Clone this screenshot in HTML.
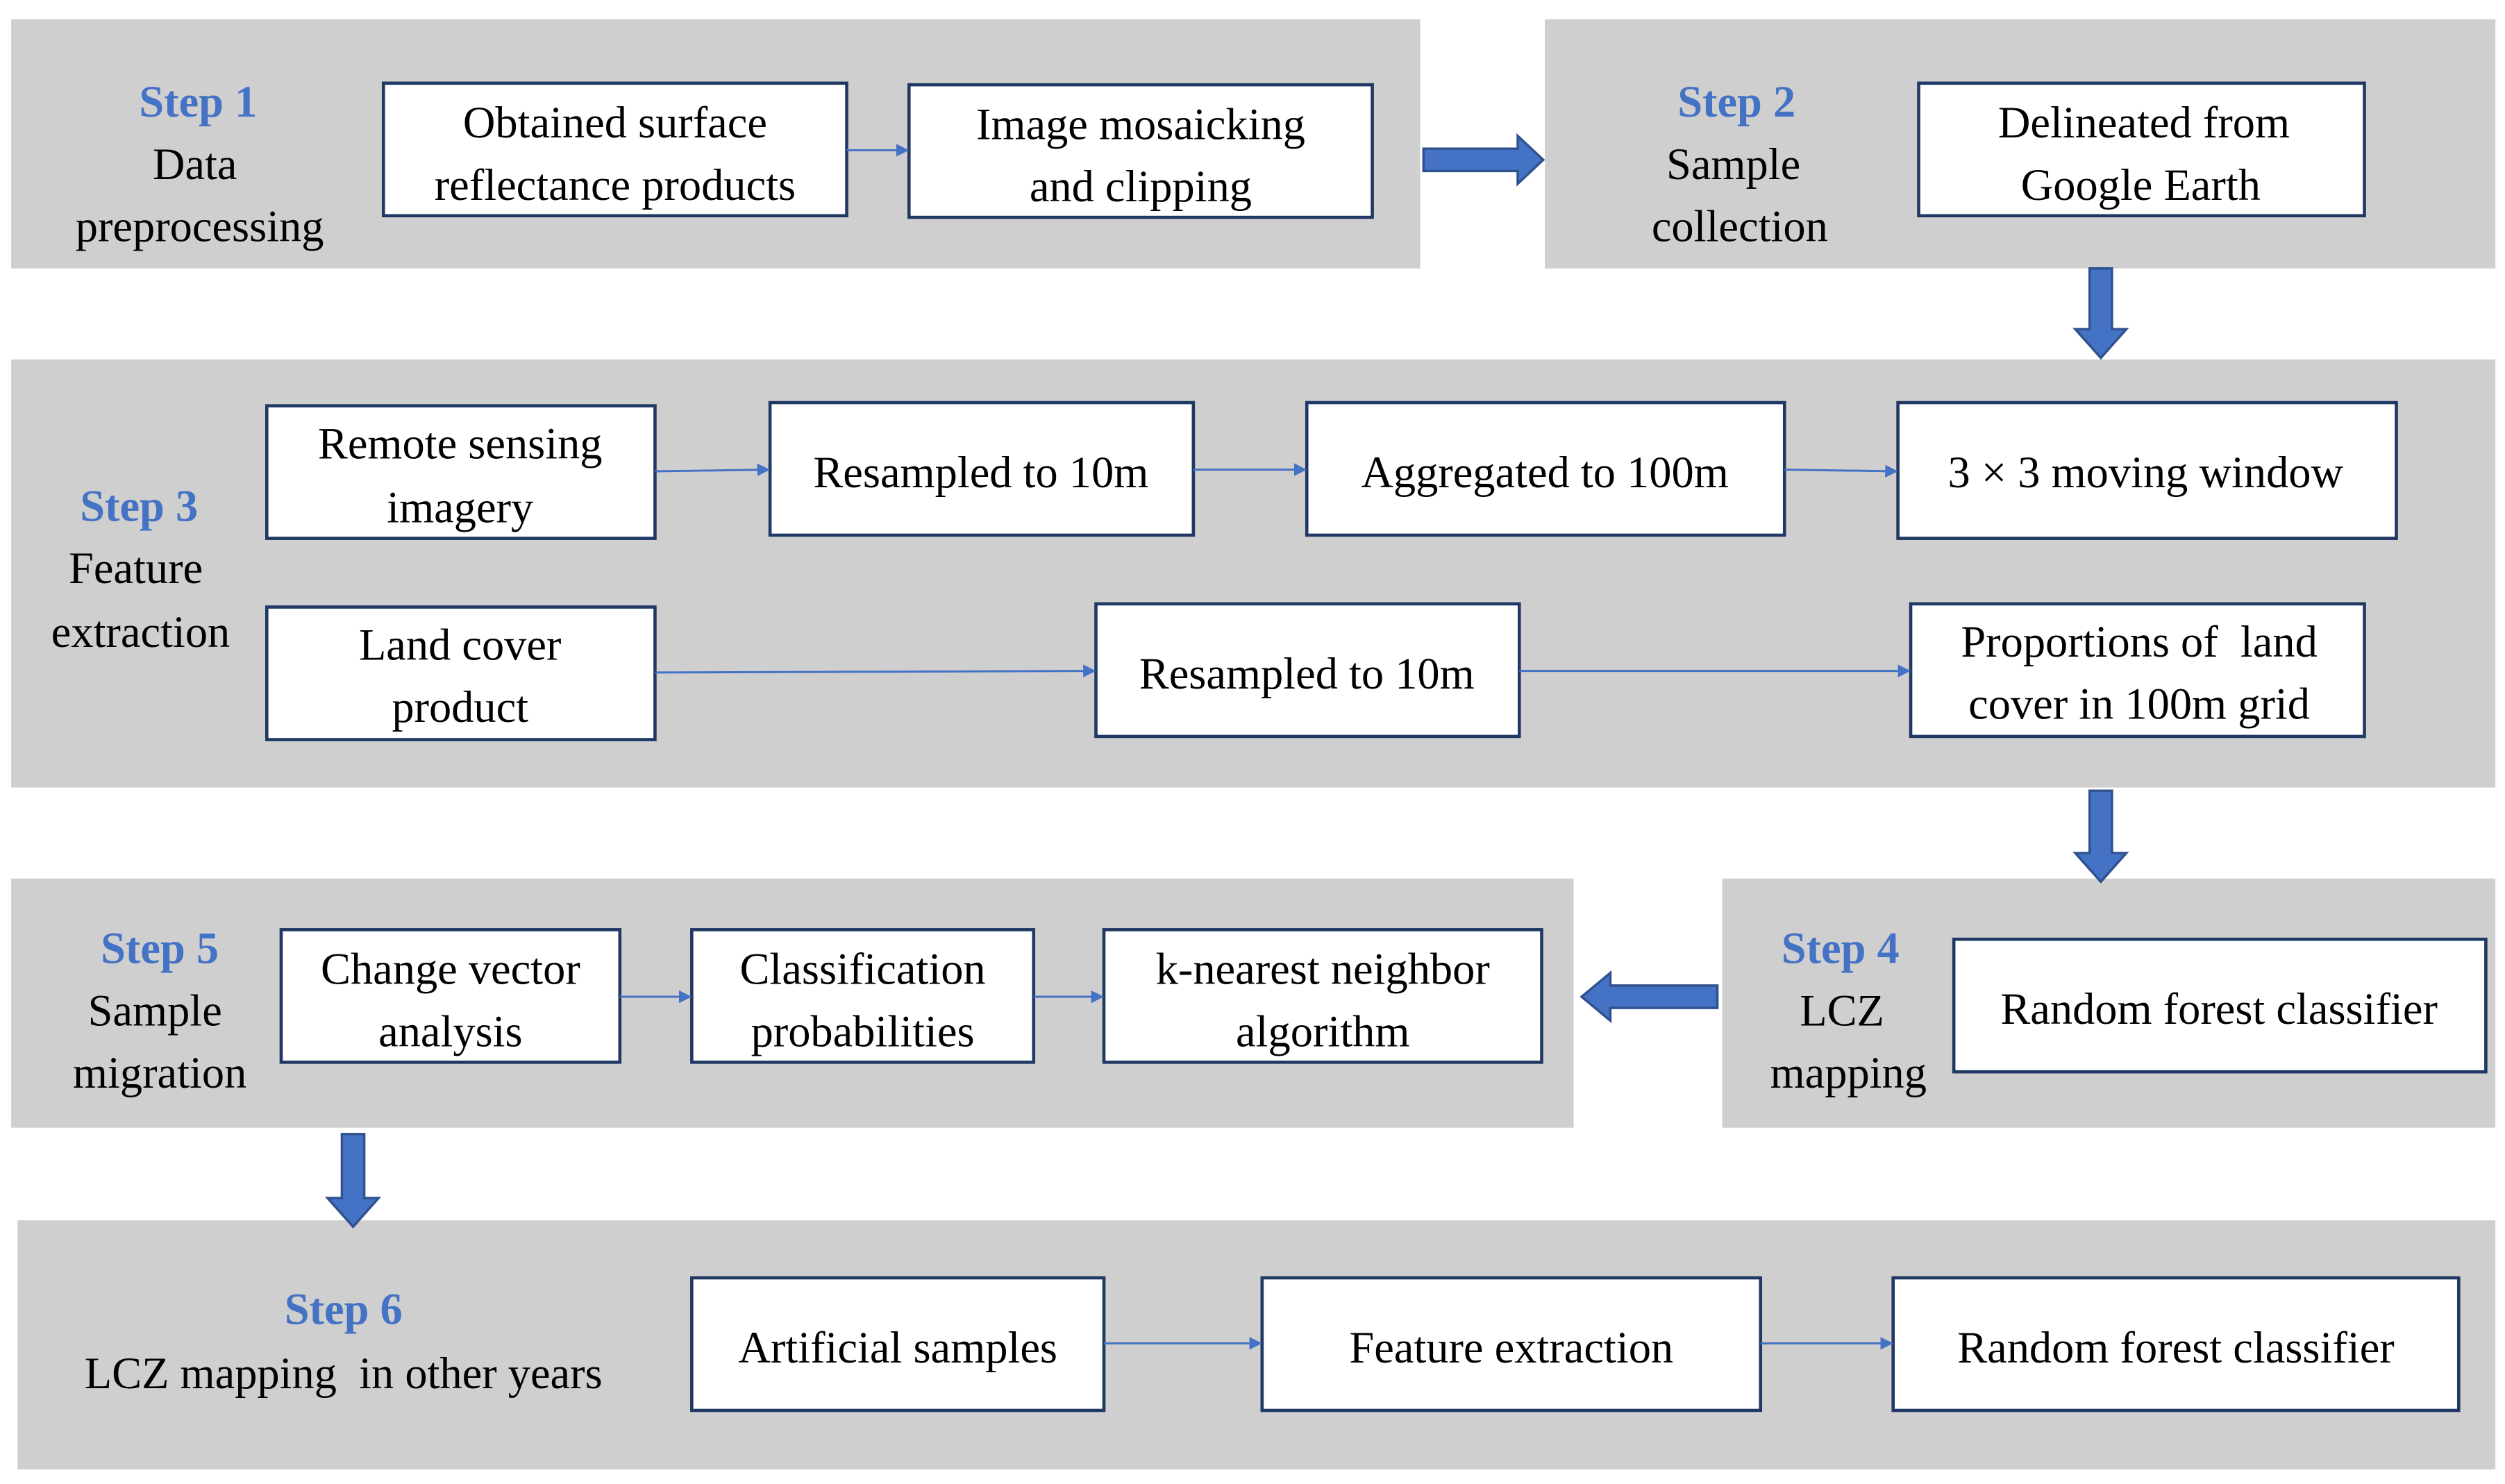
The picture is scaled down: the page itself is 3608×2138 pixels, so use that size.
<!DOCTYPE html>
<html><head><meta charset="utf-8"><style>html,body{margin:0;padding:0;background:#fff}svg{display:block}</style></head><body>
<svg xmlns="http://www.w3.org/2000/svg" width="3608" height="2138" viewBox="0 0 1568 929">
<defs>
<marker id="a" markerWidth="8" markerHeight="8" refX="7" refY="4" orient="auto" markerUnits="userSpaceOnUse"><path d="M0,0 L8,4 L0,8 z" fill="#4472c4"/></marker>
</defs>
<rect width="1568" height="929" fill="#fff"/>
<g fill="#d0cfcf">
<rect x="7" y="12" width="882" height="156"/>
<rect x="967" y="12" width="595" height="156"/>
<rect x="7" y="225" width="1555" height="268"/>
<rect x="7" y="550" width="978" height="156"/>
<rect x="1078" y="550" width="484" height="156"/>
<rect x="11" y="764" width="1551" height="156"/>
</g>
<g fill="#fff" stroke="#1f3864" stroke-width="2">
<rect x="240" y="52" width="290" height="83"/>
<rect x="569" y="53" width="290" height="83"/>
<rect x="1201" y="52" width="279" height="83"/>
<rect x="167" y="254" width="243" height="83"/>
<rect x="482" y="252" width="265" height="83"/>
<rect x="818" y="252" width="299" height="83"/>
<rect x="1188" y="252" width="312" height="85"/>
<rect x="167" y="380" width="243" height="83"/>
<rect x="686" y="378" width="265" height="83"/>
<rect x="1196" y="378" width="284" height="83"/>
<rect x="176" y="582" width="212" height="83"/>
<rect x="433" y="582" width="214" height="83"/>
<rect x="691" y="582" width="274" height="83"/>
<rect x="1223" y="588" width="333" height="83"/>
<rect x="433" y="800" width="258" height="83"/>
<rect x="790" y="800" width="312" height="83"/>
<rect x="1185" y="800" width="354" height="83"/>
</g>
<g stroke="#4472c4" stroke-width="1.3" marker-end="url(#a)">
<line x1="530" y1="94" x2="568" y2="94"/>
<line x1="410" y1="295" x2="481" y2="294"/>
<line x1="747" y1="294" x2="817" y2="294"/>
<line x1="1117" y1="294" x2="1187" y2="295"/>
<line x1="410" y1="421" x2="685" y2="420"/>
<line x1="951" y1="420" x2="1195" y2="420"/>
<line x1="388" y1="624" x2="432" y2="624"/>
<line x1="647" y1="624" x2="690" y2="624"/>
<line x1="691" y1="841" x2="789" y2="841"/>
<line x1="1102" y1="841" x2="1184" y2="841"/>
</g>
<g fill="#4472c4" stroke="#2f528f" stroke-width="1.5">
<path d="M891,93 L950,93 L950,85 L966,100 L950,115 L950,107 L891,107 z"/>
<path d="M1308,168 L1322,168 L1322,206 L1331,206 L1315,224 L1299,206 L1308,206 z"/>
<path d="M1308,495 L1322,495 L1322,534 L1331,534 L1315,552 L1299,534 L1308,534 z"/>
<path d="M1075,617 L1008,617 L1008,609 L990,624 L1008,639 L1008,631 L1075,631 z"/>
<path d="M214,710 L228,710 L228,750 L237,750 L221,768 L205,750 L214,750 z"/>
</g>
<g font-family="'Liberation Serif',serif" font-size="28" text-anchor="middle" fill="#000">
<g fill="#4472c4" font-weight="bold">
<text x="124" y="73">Step 1</text>
<text x="1087" y="73">Step 2</text>
<text x="87" y="326">Step 3</text>
<text x="100" y="603">Step 5</text>
<text x="1152" y="603">Step 4</text>
<text x="215" y="829">Step 6</text>
</g>
<text x="122" y="112">Data</text>
<text x="125" y="151">preprocessing</text>
<text x="1085" y="112">Sample</text>
<text x="1089" y="151">collection</text>
<text x="85" y="365">Feature</text>
<text x="88" y="405">extraction</text>
<text x="97" y="642">Sample</text>
<text x="100" y="681">migration</text>
<text x="1153" y="642">LCZ</text>
<text x="1157" y="681">mapping</text>
<text x="215" y="869">LCZ mapping&#160; in other years</text>
<text x="385" y="86">Obtained surface</text>
<text x="385" y="125">reflectance products</text>
<text x="714" y="87">Image mosaicking</text>
<text x="714" y="126">and clipping</text>
<text x="1342" y="86">Delineated from</text>
<text x="1340" y="125">Google Earth</text>
<text x="288" y="287">Remote sensing</text>
<text x="288" y="327">imagery</text>
<text x="614" y="305">Resampled to 10m</text>
<text x="967" y="305">Aggregated to 100m</text>
<text x="1343" y="305">3 × 3 moving window</text>
<text x="288" y="413">Land cover</text>
<text x="288" y="452">product</text>
<text x="818" y="431">Resampled to 10m</text>
<text x="1339" y="411">Proportions of&#160; land</text>
<text x="1339" y="450">cover in 100m grid</text>
<text x="282" y="616">Change vector</text>
<text x="282" y="655">analysis</text>
<text x="540" y="616">Classification</text>
<text x="540" y="655">probabilities</text>
<text x="828" y="616">k-nearest neighbor</text>
<text x="828" y="655">algorithm</text>
<text x="1389" y="641">Random forest classifier</text>
<text x="562" y="853">Artificial samples</text>
<text x="946" y="853">Feature extraction</text>
<text x="1362" y="853">Random forest classifier</text>
</g>
</svg>
</body></html>
